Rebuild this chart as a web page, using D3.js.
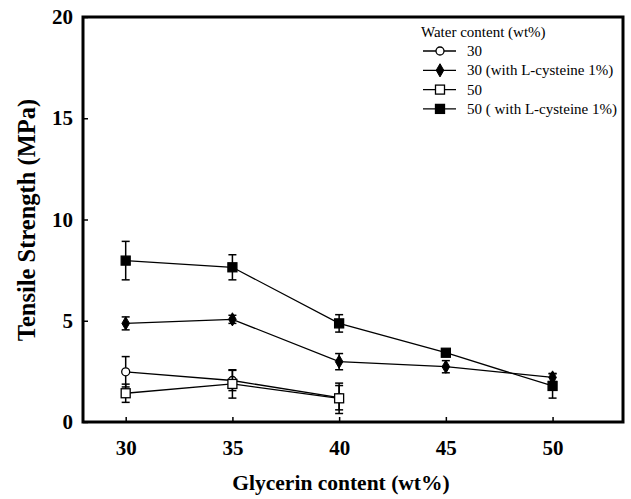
<!DOCTYPE html>
<html>
<head>
<meta charset="utf-8">
<script src="https://cdn.jsdelivr.net/npm/d3@7"></script>
<style>
  body { margin: 0; background: #fff; }
  text { font-family: "Liberation Serif", "Times New Roman", serif; }
</style>
</head>
<body>
<div id="chart-area"></div>
<script>
// data
var glycerin = [30, 35, 40, 45, 50];
var xTicks = [30, 35, 40, 45, 50];
var yTicks = [0, 5, 10, 15, 20];

var water30 = [2.48, 2.05, 1.2];
var water30Err = [0.75, 0.5, 0.6];
var water30Cys = [4.87, 5.07, 2.98, 2.73, 2.2];
var water30CysErr = [0.32, 0.2, 0.4, 0.3, 0.2];
var water50 = [1.42, 1.88, 1.17];
var water50Err = [0.45, 0.7, 0.75];
var water50Cys = [7.97, 7.64, 4.87, 3.42, 1.78];
var water50CysErr = [0.95, 0.62, 0.43, 0.15, 0.6];

var seriesNames = ["30", "30 (with L-cysteine 1%)", "50", "50 ( with L-cysteine 1%)"];

var series = [
  {name: seriesNames[0], vals: water30, errs: water30Err, shape: "circle", fill: "#fff"},
  {name: seriesNames[1], vals: water30Cys, errs: water30CysErr, shape: "diamond", fill: "#000"},
  {name: seriesNames[2], vals: water50, errs: water50Err, shape: "square", fill: "#fff"},
  {name: seriesNames[3], vals: water50Cys, errs: water50CysErr, shape: "square", fill: "#000"}
];

var width = 631, height = 499;
var margin = {top: 17, right: 8, bottom: 77, left: 83};

var svg = d3.select("#chart-area")
    .append("svg")
    .attr("width", width)
    .attr("height", height);

var x = d3.scaleLinear()
    .domain([28, 53.3])
    .range([margin.left, width - margin.right]);

var y = d3.scaleLinear()
    .domain([0, 20])
    .range([height - margin.bottom, margin.top]);

// frame
svg.append("rect")
  .attr("x", margin.left)
  .attr("y", margin.top)
  .attr("width", width - margin.right - margin.left)
  .attr("height", height - margin.bottom - margin.top)
  .attr("fill", "none")
  .attr("stroke", "#000")
  .attr("stroke-width", 3);

// axes, ticks pointing inward
var xAxis = d3.axisBottom(x).tickValues(xTicks).tickSize(-5).tickPadding(18);
var gx = svg.append("g")
    .attr("transform", "translate(0," + (height - margin.bottom) + ")")
    .call(xAxis);

var yAxis = d3.axisLeft(y).tickValues(yTicks).tickSize(-5).tickPadding(10);
var gy = svg.append("g")
    .attr("transform", "translate(" + margin.left + ",0)")
    .call(yAxis);

[gx, gy].forEach(function(g){
  g.select(".domain").remove();
  g.selectAll(".tick line").attr("stroke", "#000").attr("stroke-width", 1.5);
  g.selectAll(".tick text")
    .attr("font-family", "Liberation Serif")
    .attr("font-size", "21px")
    .attr("font-weight", "bold")
    .attr("fill", "#000");
});

// axis titles
svg.append("text")
  .attr("x", 341)
  .attr("y", 490)
  .attr("text-anchor", "middle")
  .attr("font-size", "21.5px")
  .attr("font-weight", "bold")
  .text("Glycerin content (wt%)");

svg.append("text")
  .attr("transform", "translate(35,220) rotate(-90)")
  .attr("text-anchor", "middle")
  .attr("font-size", "24.5px")
  .attr("font-weight", "bold")
  .text("Tensile Strength (MPa)");

function drawMarker(g, shape, fill, cx, cy) {
  if (shape === "circle") {
    g.append("circle").attr("cx", cx).attr("cy", cy).attr("r", 4)
      .attr("fill", fill).attr("stroke", "#000").attr("stroke-width", 1.3);
  } else if (shape === "square") {
    g.append("rect").attr("x", cx - 4.5).attr("y", cy - 4.5)
      .attr("width", 9).attr("height", 9)
      .attr("fill", fill).attr("stroke", "#000").attr("stroke-width", 1.3);
  } else {
    g.append("path")
      .attr("d", d3.symbol().type(d3.symbolDiamond).size(50)())
      .attr("transform", "translate(" + cx + "," + cy + ")")
      .attr("fill", fill).attr("stroke", "#000").attr("stroke-width", 1);
  }
}

var line = d3.line()
  .x(function(d){ return x(d.x); })
  .y(function(d){ return y(d.y); });

series.forEach(function(s){
  var pts = s.vals.map(function(v, i){ return {x: glycerin[i], y: v, e: s.errs[i]}; });
  var g = svg.append("g");
  g.append("path")
    .datum(pts)
    .attr("d", line)
    .attr("fill", "none")
    .attr("stroke", "#000")
    .attr("stroke-width", 1.3);

  pts.forEach(function(p){
    var cx = x(p.x);
    g.append("line").attr("x1", cx).attr("x2", cx)
      .attr("y1", y(p.y + p.e)).attr("y2", y(p.y - p.e))
      .attr("stroke", "#000").attr("stroke-width", 1.5);
    [p.y + p.e, p.y - p.e].forEach(function(v){
      g.append("line").attr("x1", cx - 4).attr("x2", cx + 4)
        .attr("y1", y(v)).attr("y2", y(v))
        .attr("stroke", "#000").attr("stroke-width", 1.5);
    });
    drawMarker(g, s.shape, s.fill, cx, y(p.y));
  });
});

// legend
var legend = svg.append("g");
legend.append("text")
  .attr("x", 421).attr("y", 37)
  .attr("font-size", "15px")
  .text("Water content (wt%)");

series.forEach(function(s, i){
  var ly = 51 + i * 19.3;
  legend.append("line").attr("x1", 423).attr("x2", 456)
    .attr("y1", ly).attr("y2", ly)
    .attr("stroke", "#000").attr("stroke-width", 1.3);
  drawMarker(legend, s.shape, s.fill, 440, ly);
  legend.append("text")
    .attr("x", 467).attr("y", ly + 5)
    .attr("font-size", "15px")
    .text(s.name);
});
</script>
</body>
</html>
